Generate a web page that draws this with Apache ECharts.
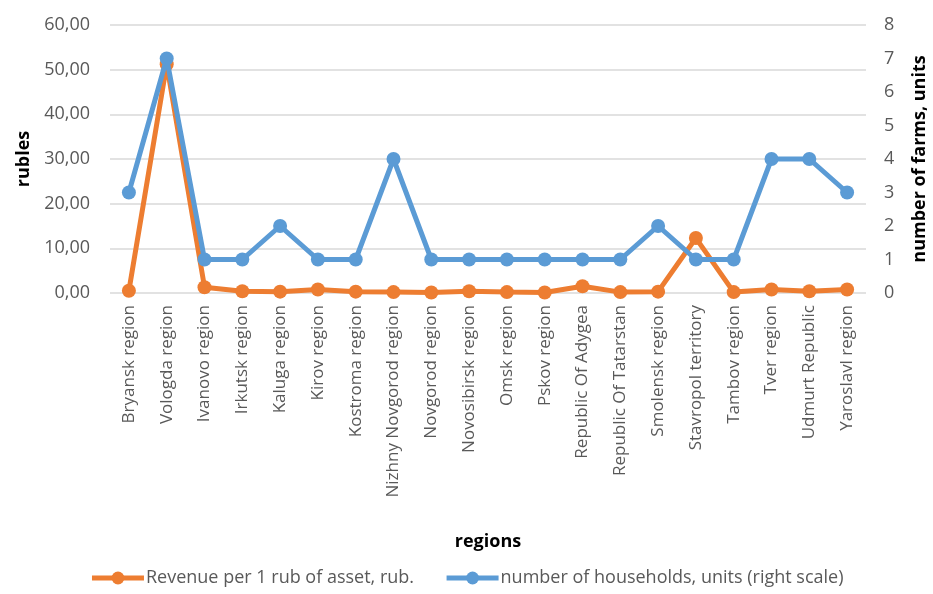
<!DOCTYPE html>
<html><head><meta charset="utf-8">
<script src="https://cdn.jsdelivr.net/npm/echarts@6/dist/echarts.min.js"></script>
<style>html,body{margin:0;padding:0;background:#fff}#c{width:933px;height:594px}</style>
</head><body><div id="c"></div>
<script>
const categories = ["Bryansk region","Vologda region","Ivanovo region","Irkutsk region","Kaluga region","Kirov region","Kostroma region","Nizhny Novgorod region","Novgorod region","Novosibirsk region","Omsk region","Pskov region","Republic Of Adygea","Republic Of Tatarstan","Smolensk region","Stavropol territory","Tambov region","Tver region","Udmurt Republic","Yaroslavl region"];
const revenue = [0.5, 51.2, 1.3, 0.4, 0.3, 0.8, 0.3, 0.2, 0.1, 0.4, 0.2, 0.1, 1.5, 0.2, 0.3, 12.3, 0.2, 0.8, 0.4, 0.8];
const households = [3, 7, 1, 1, 2, 1, 1, 4, 1, 1, 1, 1, 1, 1, 2, 1, 1, 4, 4, 3];
const leftTicks = {min: 0, max: 60, interval: 10};
const rightTicks = {min: 0, max: 8, interval: 1};

const font = "'Open Sans', 'Liberation Sans', sans-serif";
const chart = echarts.init(document.getElementById('c'));
chart.setOption({
  animation: false,
  textStyle: {fontFamily: font},
  grid: {left: 110, right: 67, top: 25, bottom: 301, containLabel: false, outerBoundsMode: 'none'},
  legend: {
    bottom: 2, left: 'center', itemGap: 30, itemWidth: 52, itemHeight: 16,
    lineStyle: {width: 5},
    textStyle: {fontFamily: font, fontSize: 18, color: '#595959', padding: [0, 0, 0, -3]},
    data: ['Revenue per 1 rub of asset, rub.', 'number of households, units (right scale)']
  },
  xAxis: {
    type: 'category', data: categories, boundaryGap: true,
    name: 'regions', nameLocation: 'middle', nameGap: 240,
    nameTextStyle: {fontFamily: font, fontSize: 18, fontWeight: 'bold', color: '#000'},
    axisLine: {show: false}, axisTick: {show: false},
    axisLabel: {rotate: 90, interval: 0, fontSize: 17, color: '#595959', margin: 12, fontFamily: font}
  },
  yAxis: [{
    type: 'value', min: leftTicks.min, max: leftTicks.max, interval: leftTicks.interval,
    name: 'rubles', nameLocation: 'middle', nameGap: 72, nameRotate: 90,
    nameTextStyle: {fontFamily: font, fontSize: 18, fontWeight: 'bold', color: '#000'},
    axisLine: {show: false}, axisTick: {show: false},
    axisLabel: {fontSize: 18, color: '#595959', margin: 20, fontFamily: font,
      formatter: v => v.toFixed(2).replace('.', ',')},
    splitLine: {lineStyle: {color: '#d9d9d9', width: 1.5}}
  }, {
    type: 'value', min: rightTicks.min, max: rightTicks.max, interval: rightTicks.interval,
    name: 'number of farms, units', nameLocation: 'middle', nameGap: 45, nameRotate: 90,
    nameTextStyle: {fontFamily: font, fontSize: 18, fontWeight: 'bold', color: '#000'},
    axisLine: {show: false}, axisTick: {show: false},
    axisLabel: {fontSize: 18, color: '#595959', margin: 18, fontFamily: font},
    splitLine: {show: false}
  }],
  series: [{
    name: 'Revenue per 1 rub of asset, rub.', type: 'line', yAxisIndex: 0, data: revenue,
    symbol: 'circle', symbolSize: 14, color: '#ED7D31',
    lineStyle: {width: 5, color: '#ED7D31'}, itemStyle: {color: '#ED7D31'}, z: 2
  }, {
    name: 'number of households, units (right scale)', type: 'line', yAxisIndex: 1, data: households,
    symbol: 'circle', symbolSize: 14, color: '#5B9BD5',
    lineStyle: {width: 5, color: '#5B9BD5'}, itemStyle: {color: '#5B9BD5'}, z: 3
  }]
});
</script></body></html>
